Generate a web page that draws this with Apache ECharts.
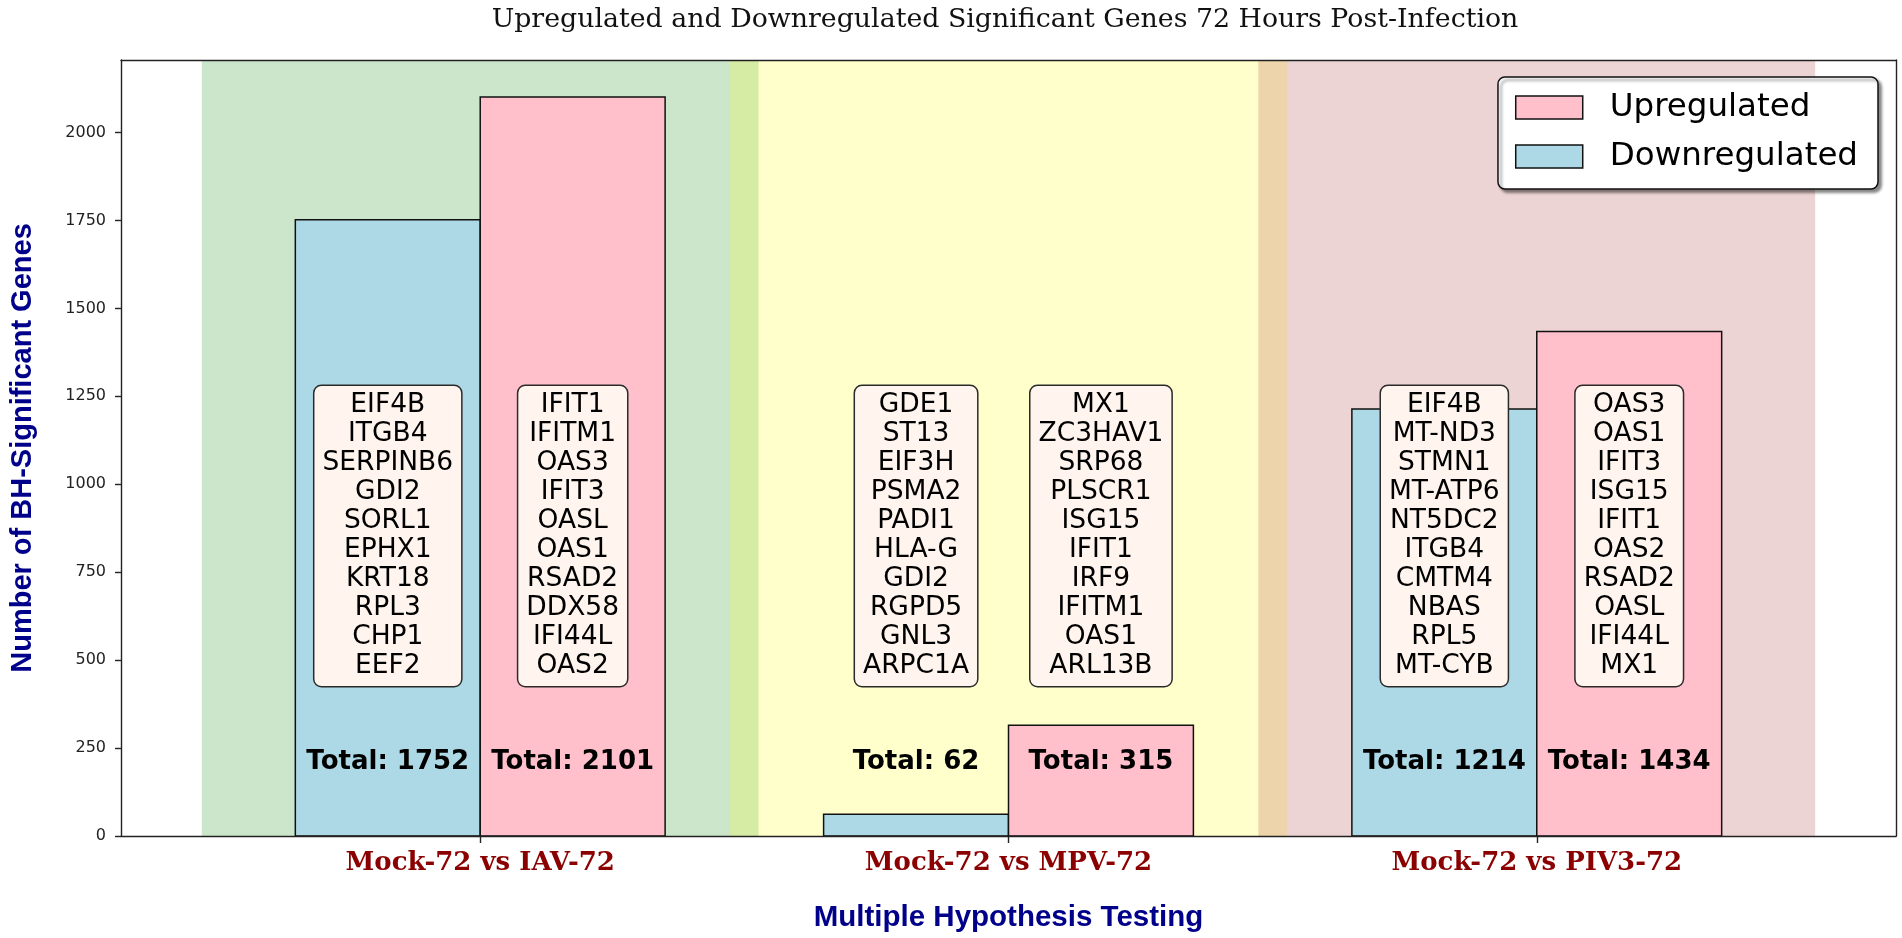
<!DOCTYPE html>
<html><head><meta charset="utf-8">
<script src="https://cdn.jsdelivr.net/npm/echarts@6/dist/echarts.min.js"></script>
<style>html,body{margin:0;padding:0;background:#fff}#chart{width:1902px;height:938px}</style>
</head><body><div id="chart"></div>
<script>
// ---- data ----
const categories = ['Mock-72 vs IAV-72', 'Mock-72 vs MPV-72', 'Mock-72 vs PIV3-72'];
const downregulated = [1752, 62, 1214];
const upregulated = [2101, 315, 1434];
const downGenes = [
  ['EIF4B','ITGB4','SERPINB6','GDI2','SORL1','EPHX1','KRT18','RPL3','CHP1','EEF2'],
  ['GDE1','ST13','EIF3H','PSMA2','PADI1','HLA-G','GDI2','RGPD5','GNL3','ARPC1A'],
  ['EIF4B','MT-ND3','STMN1','MT-ATP6','NT5DC2','ITGB4','CMTM4','NBAS','RPL5','MT-CYB']
];
const upGenes = [
  ['IFIT1','IFITM1','OAS3','IFIT3','OASL','OAS1','RSAD2','DDX58','IFI44L','OAS2'],
  ['MX1','ZC3HAV1','SRP68','PLSCR1','ISG15','IFIT1','IRF9','IFITM1','OAS1','ARL13B'],
  ['OAS3','OAS1','IFIT3','ISG15','IFIT1','OAS2','RSAD2','OASL','IFI44L','MX1']
];
const yTicks = [0, 250, 500, 750, 1000, 1250, 1500, 1750, 2000];
const xTicks = [0, 1, 2];
const titleText = 'Upregulated and Downregulated Significant Genes 72 Hours Post-Infection';

// ---- layout / style constants ----
const BAR_W = 0.35;
const SPAN_HALF = 0.527;
const Y_MAX = 2206;
const X_MIN = -0.68, X_MAX = 2.68;
const GENE_BOX_Y = 853;
const TOTAL_Y = 211;
const spanColors = ['rgba(0,128,0,0.2)', 'rgba(255,255,0,0.2)', 'rgba(165,42,42,0.2)'];
const DOWN_COLOR = '#add8e6', UP_COLOR = '#ffc0cb';

function barRender(offset) {
  return function (params, api) {
    const x = api.value(0), v = api.value(1);
    const p0 = api.coord([x + offset - BAR_W / 2, v]);
    const p1 = api.coord([x + offset + BAR_W / 2, 0]);
    return {
      type: 'rect',
      shape: { x: p0[0], y: p0[1], width: p1[0] - p0[0], height: p1[1] - p0[1] },
      style: { fill: api.visual('color'), stroke: '#111', lineWidth: 1.5 }
    };
  };
}
function geneRender(offset, lists) {
  return function (params, api) {
    const i = api.value(0);
    const pt = api.coord([i + offset, GENE_BOX_Y]);
    return {
      type: 'text', z2: 10,
      x: pt[0], y: pt[1],
      style: {
        text: lists[i].join('\n'), fontSize: 26.5, lineHeight: 29,
        fontFamily: 'DejaVu Sans', fill: '#000', align: 'center', verticalAlign: 'middle',
        backgroundColor: '#fff5ee', borderColor: '#2a2a2a', borderWidth: 1.5, borderRadius: 7,
        padding: [5, 8, 5, 8]
      }
    };
  };
}
function totalRender(offset) {
  return function (params, api) {
    const i = api.value(0), v = api.value(1);
    const pt = api.coord([i + offset, TOTAL_Y]);
    return {
      type: 'text', x: pt[0], y: pt[1],
      style: {
        text: 'Total: ' + v, fontSize: 26, fontWeight: 'bold', fontFamily: 'DejaVu Sans',
        fill: '#000', align: 'center', verticalAlign: 'middle'
      }
    };
  };
}

const chart = echarts.init(document.getElementById('chart'));
chart.setOption({
  animation: false,
  backgroundColor: '#fff',
  graphic: [{
    type: 'text', x: 1005, y: 20, z: 100,
    style: {
      text: titleText, fontFamily: 'DejaVu Serif', fontWeight: 'normal', fontSize: 26.8,
      fill: '#111', align: 'center', verticalAlign: 'middle'
    }
  }],
  grid: { left: 118, right: 6, top: 60, bottom: 102, containLabel: false },
  legend: {
    orient: 'vertical', right: 24, top: 77,
    itemWidth: 67, itemHeight: 23, itemGap: 16,
    backgroundColor: '#fff', borderColor: '#111', borderWidth: 1.5, borderRadius: 7,
    padding: [14, 20, 16, 17],
    shadowColor: 'rgba(0,0,0,0.45)', shadowBlur: 3, shadowOffsetX: 3, shadowOffsetY: 3,
    textStyle: { fontFamily: 'DejaVu Sans', fontSize: 32.5, color: '#000', padding: [0, 0, 0, 22] },
    data: [
      { name: 'Upregulated', icon: 'rect', itemStyle: { color: UP_COLOR, borderColor: '#111', borderWidth: 1.5 } },
      { name: 'Downregulated', icon: 'rect', itemStyle: { color: DOWN_COLOR, borderColor: '#111', borderWidth: 1.5 } }
    ]
  },
  xAxis: [{
    type: 'value', min: X_MIN, max: X_MAX, z: 10,
    axisLine: { show: true, onZero: false, lineStyle: { color: '#222', width: 1.4 } },
    axisTick: { show: true, customValues: xTicks, length: 7, lineStyle: { color: '#222', width: 1.4 } },
    axisLabel: {
      customValues: xTicks, margin: 14,
      formatter: v => categories[Math.round(v)],
      fontFamily: 'DejaVu Serif', fontWeight: 'bold', fontSize: 26, color: '#8b0000'
    },
    splitLine: { show: false },
    name: 'Multiple Hypothesis Testing', nameLocation: 'middle', nameGap: 67,
    nameTextStyle: { fontFamily: 'Liberation Sans', fontWeight: 'bold', fontSize: 29.5, color: '#00008b' }
  }, {
    type: 'value', min: X_MIN, max: X_MAX, position: 'top', z: 10,
    axisLine: { show: true, onZero: false, lineStyle: { color: '#222', width: 1.4 } },
    axisTick: { show: false }, axisLabel: { show: false }, splitLine: { show: false }
  }],
  yAxis: [{
    type: 'value', min: 0, max: Y_MAX, z: 10,
    axisLine: { show: true, onZero: false, lineStyle: { color: '#222', width: 1.4 } },
    axisTick: { show: true, customValues: yTicks, length: 6, lineStyle: { color: '#222', width: 1.4 } },
    axisLabel: { customValues: yTicks, margin: 15, formatter: v => String(v),
                 fontFamily: 'DejaVu Sans', fontSize: 16, color: '#222' },
    splitLine: { show: false },
    name: 'Number of BH-Significant Genes', nameLocation: 'middle', nameGap: 84,
    nameTextStyle: { fontFamily: 'Liberation Sans', fontWeight: 'bold', fontSize: 29, color: '#00008b' }
  }, {
    type: 'value', min: 0, max: Y_MAX, position: 'right', z: 10,
    axisLine: { show: true, onZero: false, lineStyle: { color: '#222', width: 1.4 } },
    axisTick: { show: false }, axisLabel: { show: false }, splitLine: { show: false }
  }],
  series: [
    {
      type: 'custom', name: 'spans', z: 1, silent: true,
      data: categories.map((c, i) => [i]),
      renderItem: function (params, api) {
        const i = api.value(0);
        const p0 = api.coord([i - SPAN_HALF, Y_MAX]);
        const p1 = api.coord([i + SPAN_HALF, 0]);
        return { type: 'rect', shape: { x: p0[0], y: p0[1], width: p1[0] - p0[0], height: p1[1] - p0[1] },
                 style: { fill: spanColors[i] } };
      }
    },
    {
      type: 'custom', name: 'Downregulated', z: 2,
      itemStyle: { color: DOWN_COLOR },
      data: categories.map((c, i) => [i, downregulated[i]]),
      renderItem: barRender(-BAR_W / 2)
    },
    {
      type: 'custom', name: 'Upregulated', z: 2,
      itemStyle: { color: UP_COLOR },
      data: categories.map((c, i) => [i, upregulated[i]]),
      renderItem: barRender(BAR_W / 2)
    },
    {
      type: 'custom', name: 'downGenes', z: 3, silent: true,
      data: categories.map((c, i) => [i]),
      renderItem: geneRender(-BAR_W / 2, downGenes)
    },
    {
      type: 'custom', name: 'upGenes', z: 3, silent: true,
      data: categories.map((c, i) => [i]),
      renderItem: geneRender(BAR_W / 2, upGenes)
    },
    {
      type: 'custom', name: 'downTotals', z: 4, silent: true,
      data: categories.map((c, i) => [i, downregulated[i]]),
      renderItem: totalRender(-BAR_W / 2)
    },
    {
      type: 'custom', name: 'upTotals', z: 4, silent: true,
      data: categories.map((c, i) => [i, upregulated[i]]),
      renderItem: totalRender(BAR_W / 2)
    }
  ]
});
</script>
</body></html>
